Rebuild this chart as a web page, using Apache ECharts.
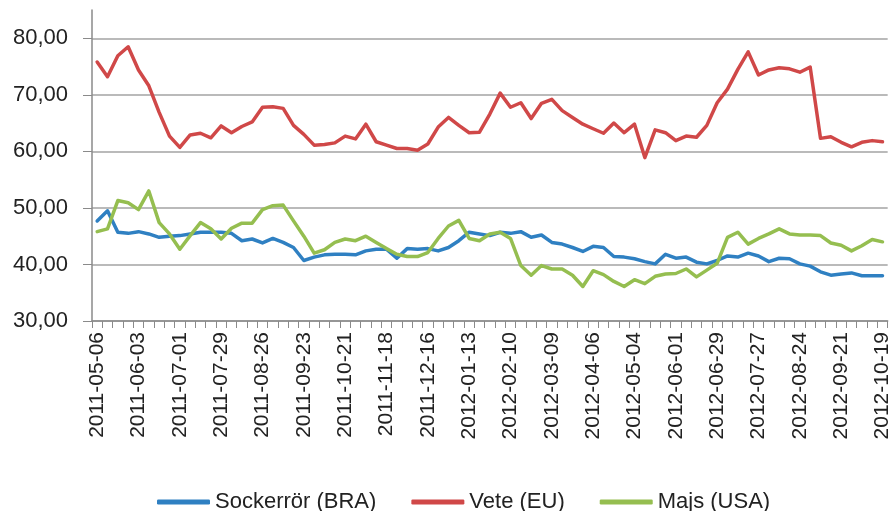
<!DOCTYPE html>
<html>
<head>
<meta charset="utf-8">
<script src="https://cdn.jsdelivr.net/npm/echarts@6/dist/echarts.min.js"></script>
<style>
  html, body { margin: 0; padding: 0; background: #fff; }
  #chart { width: 893px; height: 511px; }
</style>
</head>
<body>
<div id="chart"></div>
<script>
// weekly dates
const dates = [
  '2011-05-06','2011-05-13','2011-05-20','2011-05-27','2011-06-03','2011-06-10','2011-06-17','2011-06-24',
  '2011-07-01','2011-07-08','2011-07-15','2011-07-22','2011-07-29','2011-08-05','2011-08-12','2011-08-19',
  '2011-08-26','2011-09-02','2011-09-09','2011-09-16','2011-09-23','2011-09-30','2011-10-07','2011-10-14',
  '2011-10-21','2011-10-28','2011-11-04','2011-11-11','2011-11-18','2011-11-25','2011-12-02','2011-12-09',
  '2011-12-16','2011-12-23','2011-12-30','2012-01-06','2012-01-13','2012-01-20','2012-01-27','2012-02-03',
  '2012-02-10','2012-02-17','2012-02-24','2012-03-02','2012-03-09','2012-03-16','2012-03-23','2012-03-30',
  '2012-04-06','2012-04-13','2012-04-20','2012-04-27','2012-05-04','2012-05-11','2012-05-18','2012-05-25',
  '2012-06-01','2012-06-08','2012-06-15','2012-06-22','2012-06-29','2012-07-06','2012-07-13','2012-07-20',
  '2012-07-27','2012-08-03','2012-08-10','2012-08-17','2012-08-24','2012-08-31','2012-09-07','2012-09-14',
  '2012-09-21','2012-09-28','2012-10-05','2012-10-12','2012-10-19'
];

const sockerror = [
  47.7, 49.5, 45.7, 45.5, 45.8, 45.4, 44.8, 45.0, 45.1, 45.4, 45.7, 45.7, 45.7, 45.5, 44.2, 44.5,
  43.8, 44.6, 43.9, 43.0, 40.7, 41.3, 41.7, 41.8, 41.8, 41.7, 42.4, 42.7, 42.7, 41.1, 42.8, 42.7,
  42.8, 42.4, 43.0, 44.2, 45.7, 45.4, 45.1, 45.7, 45.5, 45.8, 44.8, 45.2, 43.9, 43.6, 43.0, 42.3,
  43.2, 43.0, 41.4, 41.3, 41.0, 40.5, 40.1, 41.8, 41.1, 41.3, 40.4, 40.1, 40.7, 41.5, 41.3, 42.0,
  41.5, 40.5, 41.1, 41.0, 40.1, 39.7, 38.7, 38.1, 38.3, 38.5, 38.0, 38.0, 38.0
];

const vete = [
  75.8, 73.2, 76.9, 78.5, 74.4, 71.6, 66.9, 62.7, 60.7, 62.9, 63.2, 62.4, 64.5, 63.3, 64.4, 65.2,
  67.8, 67.9, 67.6, 64.6, 63.0, 61.1, 61.2, 61.5, 62.7, 62.2, 64.8, 61.7, 61.1, 60.5, 60.5, 60.2,
  61.3, 64.3, 66.0, 64.6, 63.3, 63.4, 66.6, 70.3, 67.8, 68.6, 65.8, 68.5, 69.2, 67.2, 66.0, 64.8,
  64.0, 63.2, 65.0, 63.3, 64.8, 58.9, 63.8, 63.3, 61.9, 62.7, 62.5, 64.6, 68.6, 71.0, 74.5, 77.6,
  73.5, 74.4, 74.8, 74.6, 74.0, 74.9, 62.3, 62.6, 61.6, 60.8, 61.6, 61.9, 61.7
];

const majs = [
  45.8, 46.3, 51.3, 50.9, 49.7, 53.0, 47.4, 45.4, 42.7, 45.1, 47.4, 46.3, 44.5, 46.4, 47.3, 47.3,
  49.7, 50.4, 50.5, 47.7, 45.0, 42.0, 42.6, 43.9, 44.5, 44.2, 45.0, 43.9, 42.8, 41.8, 41.4, 41.4,
  42.1, 44.6, 46.8, 47.8, 44.6, 44.2, 45.4, 45.7, 44.6, 39.8, 38.1, 39.8, 39.2, 39.2, 38.1, 36.1,
  38.9, 38.2, 37.0, 36.1, 37.3, 36.6, 37.9, 38.3, 38.4, 39.2, 37.8, 39.0, 40.2, 44.8, 45.7, 43.6,
  44.6, 45.4, 46.3, 45.4, 45.2, 45.2, 45.1, 43.8, 43.4, 42.4, 43.3, 44.4, 44.0
];

const yTicks = [30, 40, 50, 60, 70, 80];

const chart = echarts.init(document.getElementById('chart'));
const font = '"Liberation Sans", Arial, sans-serif';

function line(name, data, color) {
  return {
    name: name,
    type: 'line',
    data: data,
    symbol: 'none',
    showSymbol: false,
    animation: false,
    lineStyle: { color: color, width: 3.5, cap: 'round', join: 'round' },
    itemStyle: { color: color }
  };
}

chart.setOption({
  backgroundColor: '#fff',
  animation: false,
  grid: { left: 92, right: 5, top: 10, bottom: 190 },
  legend: {
    left: 152,
    top: 486,
    icon: 'roundRect',
    itemWidth: 53,
    itemHeight: 5,
    itemGap: 35,
    itemTextGap: 3,
    textStyle: { fontFamily: font, fontSize: 22, color: '#222' },
    data: ['Sockerrör (BRA)', 'Vete (EU)', 'Majs (USA)']
  },
  xAxis: {
    type: 'category',
    data: dates,
    boundaryGap: true,
    axisLine: { lineStyle: { color: '#8a8a8a', width: 1.5 } },
    axisTick: { show: true, interval: 0, length: 7, lineStyle: { color: '#8a8a8a', width: 1 } },
    axisLabel: {
      interval: 3,
      rotate: 90,
      margin: 11,
      fontFamily: font,
      fontSize: 21,
      color: '#222'
    },
    splitLine: { show: false }
  },
  yAxis: {
    type: 'value',
    min: 30,
    max: 85,
    interval: 10,
    axisLine: { show: true, lineStyle: { color: '#8a8a8a', width: 1.5 } },
    axisTick: { show: true, length: 9, customValues: yTicks, lineStyle: { color: '#8a8a8a', width: 1 } },
    axisLabel: {
      margin: 24,
      customValues: yTicks,
      fontFamily: font,
      fontSize: 22,
      color: '#222',
      formatter: function (v) {
        return v % 10 === 0 ? v.toFixed(2).replace('.', ',') : '';
      }
    },
    splitLine: {
      show: true,
      lineStyle: {
        color: ['#a3a3a3', '#a3a3a3', '#a3a3a3', '#a3a3a3', '#a3a3a3', '#a3a3a3', 'rgba(0,0,0,0)'],
        width: 1.5
      }
    }
  },
  series: [
    line('Sockerrör (BRA)', sockerror, '#2F80C2'),
    line('Vete (EU)', vete, '#D04848'),
    line('Majs (USA)', majs, '#95BE50')
  ]
});
</script>
</body>
</html>
